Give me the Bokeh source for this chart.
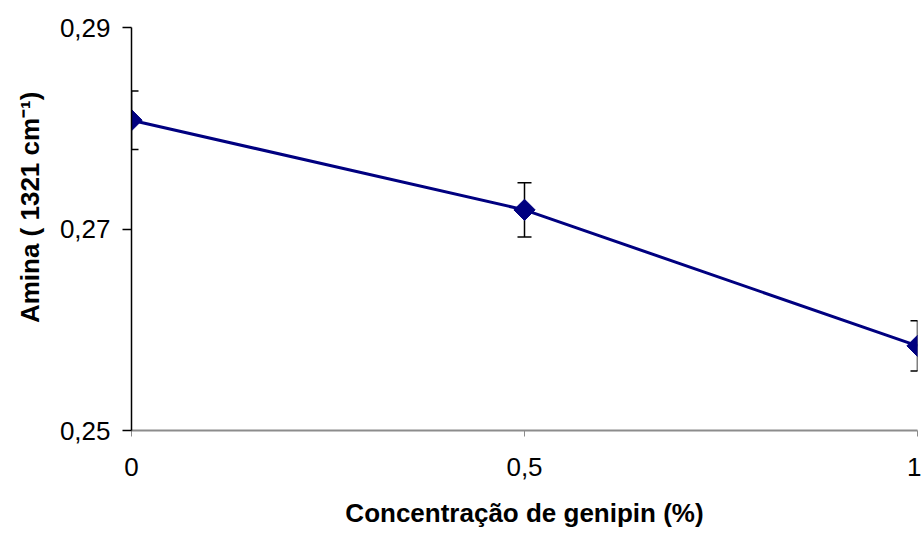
import math
from bokeh.plotting import figure
from bokeh.models import ColumnDataSource, Whisker, TeeHead, FixedTicker, Range1d
from bokeh.embed import file_html
from bokeh.resources import INLINE

concentration = [0.0, 0.5, 1.0]
amina = [0.2808, 0.2719, 0.2584]
erro = [0.0029, 0.0027, 0.0025]
x_ticks = [0, 0.5, 1]
x_tick_labels = ["0", "0,5", "1"]
y_ticks = [0.25, 0.27, 0.29]
y_tick_labels = ["0,25", "0,27", "0,29"]
y_title = "Amina ( 1321 cm⁻¹)"
x_title = "Concentração de genipin (%)"

src = ColumnDataSource(dict(
    x=concentration,
    y=amina,
    upper=[a + e for a, e in zip(amina, erro)],
    lower=[a - e for a, e in zip(amina, erro)],
))

p = figure(width=921, height=533, output_backend="svg", toolbar_location=None,
           x_range=Range1d(0, 1), y_range=Range1d(0.25, 0.29),
           min_border_left=131, min_border_right=4, min_border_top=27, min_border_bottom=103)
p.outline_line_color = None
p.xgrid.visible = False
p.ygrid.visible = False
p.background_fill_color = "white"
p.border_fill_color = "white"

FONT = "Liberation Sans"

p.xaxis.ticker = FixedTicker(ticks=x_ticks)
p.xaxis.major_label_overrides = {t: l for t, l in zip(x_ticks, x_tick_labels)}
p.xaxis.minor_tick_line_color = None
p.xaxis.axis_line_color = "#8c8c8c"
p.xaxis.axis_line_width = 2
p.xaxis.major_tick_line_color = "#8c8c8c"
p.xaxis.major_tick_out = 6
p.xaxis.major_tick_in = 0
p.xaxis.major_label_standoff = 21
p.xaxis.major_label_text_font = FONT
p.xaxis.major_label_text_font_size = "26px"
p.xaxis.major_label_text_color = "black"
p.xaxis.axis_label = x_title
p.xaxis.axis_label_text_font = FONT
p.xaxis.axis_label_text_font_size = "26px"
p.xaxis.axis_label_text_font_style = "bold"
p.xaxis.axis_label_text_color = "black"
p.xaxis.axis_label_standoff = 19

p.yaxis.ticker = FixedTicker(ticks=y_ticks)
p.yaxis.major_label_overrides = {t: l for t, l in zip(y_ticks, y_tick_labels)}
p.yaxis.minor_tick_line_color = None
p.yaxis.axis_line_color = "black"
p.yaxis.axis_line_width = 1.5
p.yaxis.major_tick_line_color = "black"
p.yaxis.major_tick_line_width = 1.5
p.yaxis.major_tick_out = 9
p.yaxis.major_tick_in = 0
p.yaxis.major_label_standoff = 12
p.yaxis.major_label_text_font = FONT
p.yaxis.major_label_text_font_size = "26px"
p.yaxis.major_label_text_color = "black"
# leading non-breaking spaces lift the centred title a little, as in the reference
p.yaxis.axis_label = "\u00a0" * 6 + y_title
p.yaxis.axis_label_text_font = FONT
p.yaxis.axis_label_text_font_size = "26px"
p.yaxis.axis_label_text_font_style = "bold"
p.yaxis.axis_label_text_color = "black"
p.yaxis.axis_label_standoff = 12

p.line("x", "y", source=src, line_color="#000080", line_width=3)

w = Whisker(base="x", upper="upper", lower="lower", source=src,
            line_color="black", line_width=1.5,
            upper_head=TeeHead(size=14, line_color="black", line_width=1.5),
            lower_head=TeeHead(size=14, line_color="black", line_width=1.5))
p.add_layout(w)

p.scatter("x", "y", source=src, marker="square", angle=math.pi / 4, size=15,
          fill_color="#000080", line_color="#000080")

open("out.html", "w").write(file_html(p, INLINE))
